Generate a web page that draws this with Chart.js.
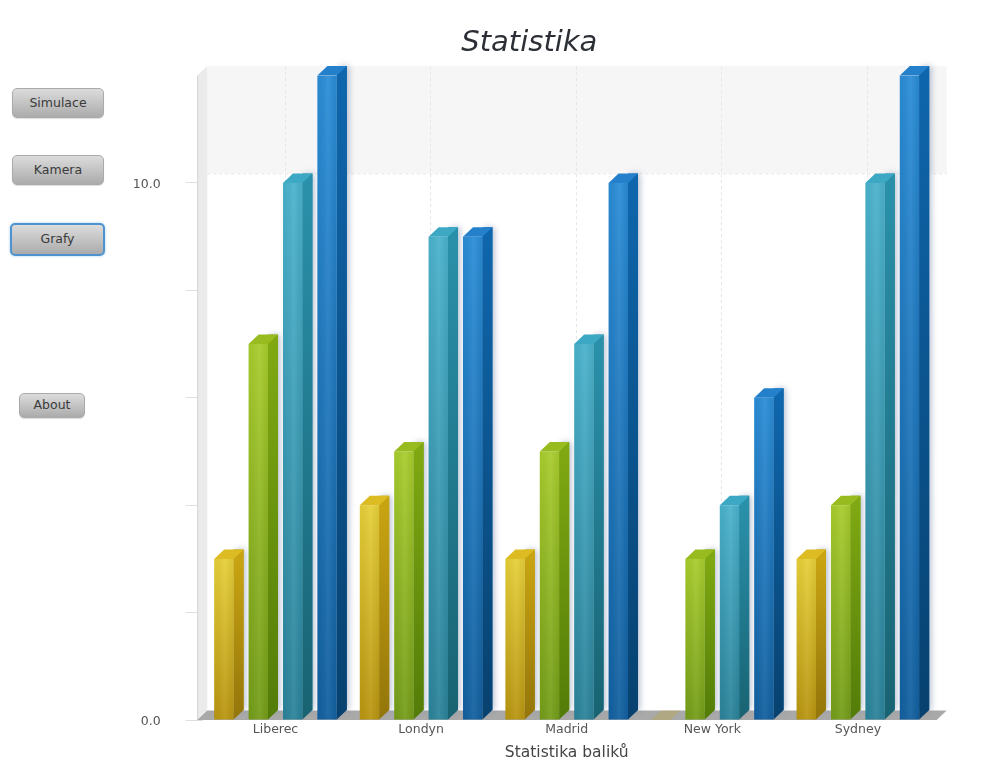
<!DOCTYPE html>
<html><head><meta charset="utf-8">
<script src="https://cdn.jsdelivr.net/npm/chart.js@4/dist/chart.umd.min.js"></script>
<style>
html,body{margin:0;padding:0;background:#fff;overflow:hidden}
#wrap{position:absolute;left:128px;top:0;width:875px;height:762px}
.btn{position:absolute;box-sizing:border-box;border:1px solid #aaa;border-radius:5px;
 background:linear-gradient(#dcdcdc 0%,#c6c6c6 45%,#ababab 100%);color:#3a3a3a;
 font:12.5px "DejaVu Sans",sans-serif;text-align:center;padding:0 0 2px 0;z-index:2;box-shadow:0 1px 1px #ddd}
#grafy{border:2px solid #4c93cf;box-shadow:0 0 3px #a8cfee}
</style></head><body>
<button class="btn" style="left:12px;top:88px;width:92px;height:30px">Simulace</button>
<button class="btn" style="left:12px;top:155px;width:92px;height:30px">Kamera</button>
<button class="btn" id="grafy" style="left:10px;top:223px;width:95px;height:33px">Grafy</button>
<button class="btn" style="left:19px;top:393px;width:66px;height:25px">About</button>
<div id="wrap"><canvas id="c" width="875" height="762"></canvas></div>
<script>
const titleText = 'Statistika';
const xAxisTitle = 'Statistika baliků';
const categories = ['Liberec','Londyn','Madrid','New York','Sydney'];
const seriesYellow = [3,4,3,0,3];
const seriesGreen  = [7,5,5,3,4];
const seriesTeal   = [10,9,7,4,10];
const seriesBlue   = [12,9,10,6,12];
const yMax = 12, yStep = 2, labelledTicks = [0,10];

const palette = [
 {top:'#e6cf38',bottom:'#b8940f',side:'#c8a412',sideB:'#93750a',cap:'#dcbc22'},
 {top:'#a8cc2c',bottom:'#739c18',side:'#7fa812',sideB:'#527c08',cap:'#98bc20'},
 {top:'#4ab2cc',bottom:'#2a8299',side:'#2a90aa',sideB:'#186372',cap:'#3ca8c4'},
 {top:'#2a8cd6',bottom:'#115f9f',side:'#0f66ac',sideB:'#07416f',cap:'#2580cc'}
];
const D = 10, Dy = 9.5;

function front(p){
  return function(ctx){
    const ch = ctx.chart, ys = ch.scales.y;
    if(!ys || ctx.parsed===undefined) return p.top;
    const y1 = ys.getPixelForValue(ctx.parsed.y), y2 = ys.getPixelForValue(0);
    if(!isFinite(y1) || !isFinite(y2) || y1===y2) return p.top;
    const g = ch.ctx.createLinearGradient(0,y1,0,y2);
    g.addColorStop(0,p.top); g.addColorStop(1,p.bottom);
    return g;
  };
}

const scene = {
  id:'scene',
  beforeDatasetsDraw(chart){
    const c = chart.ctx, a = chart.chartArea, ys = chart.scales.y, xs = chart.scales.x;
    const L = a.left-5.5, R = a.right+6, B = a.bottom, T = a.top;
    c.save();
    const y10 = ys.getPixelForValue(labelledTicks[1]) - Dy;
    c.fillStyle = '#f6f6f6';
    c.fillRect(L+D, T-Dy, R-L, y10-(T-Dy));
    c.strokeStyle = '#e6e6e6'; c.lineWidth = 1; c.setLineDash([3,3]);
    c.beginPath();
    c.moveTo(L+D, y10+.5); c.lineTo(R+D, y10+.5);
    categories.forEach((_,i)=>{
      const x = Math.round(xs.getPixelForValue(i)+D)-.5;
      c.moveTo(x,T-Dy); c.lineTo(x,B-Dy);
    });
    c.stroke(); c.setLineDash([]);
    c.fillStyle = '#ebebeb';
    c.beginPath(); c.moveTo(L,T); c.lineTo(L+D,T-Dy); c.lineTo(L+D,B-Dy); c.lineTo(L,B); c.closePath(); c.fill();
    c.strokeStyle = '#d4d4d4'; c.beginPath(); c.moveTo(L+.5,T); c.lineTo(L+.5,B); c.stroke();
    c.fillStyle = '#a9a9a9';
    c.beginPath(); c.moveTo(L,B); c.lineTo(L+D,B-Dy); c.lineTo(R+D,B-Dy); c.lineTo(R,B); c.closePath(); c.fill();
    chart.data.datasets.forEach((ds,di)=>{
      const p = palette[di];
      chart.getDatasetMeta(di).data.forEach(bar=>{
        const {x,y,width,base} = bar;
        const x1 = x-width/2, x2 = x+width/2;
        if(Math.abs(base-y)<.5){
          c.fillStyle = 'rgba(190,165,60,.35)';
          c.beginPath(); c.moveTo(x1,y); c.lineTo(x1+D,y-Dy); c.lineTo(x2+D,y-Dy); c.lineTo(x2,y); c.closePath(); c.fill();
          return;
        }
        c.save();
        c.shadowColor='rgba(90,110,150,.45)'; c.shadowBlur=6; c.shadowOffsetX=2;
        c.fillStyle = p.side;
        c.fillRect(x2, y-Dy, D, base-y);
        c.restore();
      });
    });
    c.restore();
  },
  afterDatasetsDraw(chart){
    const c = chart.ctx;
    c.save();
    chart.data.datasets.forEach((ds,di)=>{
      const p = palette[di];
      chart.getDatasetMeta(di).data.forEach(bar=>{
        const {x,y,width,base} = bar;
        if(Math.abs(base-y)<.5) return;
        const x1 = x-width/2, x2 = x+width/2;
        const h = c.createLinearGradient(x1,0,x2,0);
        h.addColorStop(0,'rgba(0,0,0,.03)');
        h.addColorStop(.55,'rgba(255,255,255,.07)');
        h.addColorStop(1,'rgba(0,0,0,.05)');
        c.fillStyle = h; c.fillRect(x1,y,width,base-y);
        const s = c.createLinearGradient(0,y,0,base);
        s.addColorStop(0,p.side); s.addColorStop(1,p.sideB);
        c.fillStyle = s;
        c.beginPath(); c.moveTo(x2,y); c.lineTo(x2+D,y-Dy); c.lineTo(x2+D,base-Dy); c.lineTo(x2,base); c.closePath(); c.fill();
        c.fillStyle = p.cap;
        c.beginPath(); c.moveTo(x1,y); c.lineTo(x1+D,y-Dy); c.lineTo(x2+D,y-Dy); c.lineTo(x2,y); c.closePath(); c.fill();
      });
    });
    c.restore();
  }
};

const seriesValues = [seriesYellow,seriesGreen,seriesTeal,seriesBlue];
new Chart(document.getElementById('c'),{
  type:'bar',
  data:{labels:categories,datasets:seriesValues.map((v,i)=>({
    data:v, backgroundColor:front(palette[i]), borderWidth:0,
    barPercentage:.565, categoryPercentage:.945
  }))},
  options:{
    responsive:false, animation:false, devicePixelRatio:1,
    layout:{padding:{left:0,right:72.3,top:0,bottom:0}},
    plugins:{
      legend:{display:false}, tooltip:{enabled:false},
      title:{display:true,text:titleText,color:'#2c3036',
        font:{family:'"DejaVu Sans"',size:29,style:'italic',weight:'normal'},
        padding:{top:26,bottom:14.8}}
    },
    scales:{
      x:{
        grid:{display:false}, border:{display:false},
        ticks:{color:'#555',font:{family:'"DejaVu Sans"',size:12.5},padding:-6,maxRotation:0},
        title:{display:true,text:xAxisTitle,color:'#444',font:{family:'"DejaVu Sans"',size:15.5},padding:{top:4,bottom:0}},
        afterFit(s){s.height=42;}
      },
      y:{
        min:0,max:yMax,
        border:{display:false},
        grid:{drawOnChartArea:false,tickLength:17,color:c=>c.tick&&c.tick.value>=yMax?'rgba(0,0,0,0)':'#dedede'},
        ticks:{stepSize:yStep,color:'#555',font:{family:'"DejaVu Sans"',size:12.5},padding:25,labelOffset:2,
          callback:v=>labelledTicks.includes(v)?v.toFixed(1):''},
        afterFit(s){s.width=74.7;}
      }
    }
  },
  plugins:[scene]
});
</script></body></html>
